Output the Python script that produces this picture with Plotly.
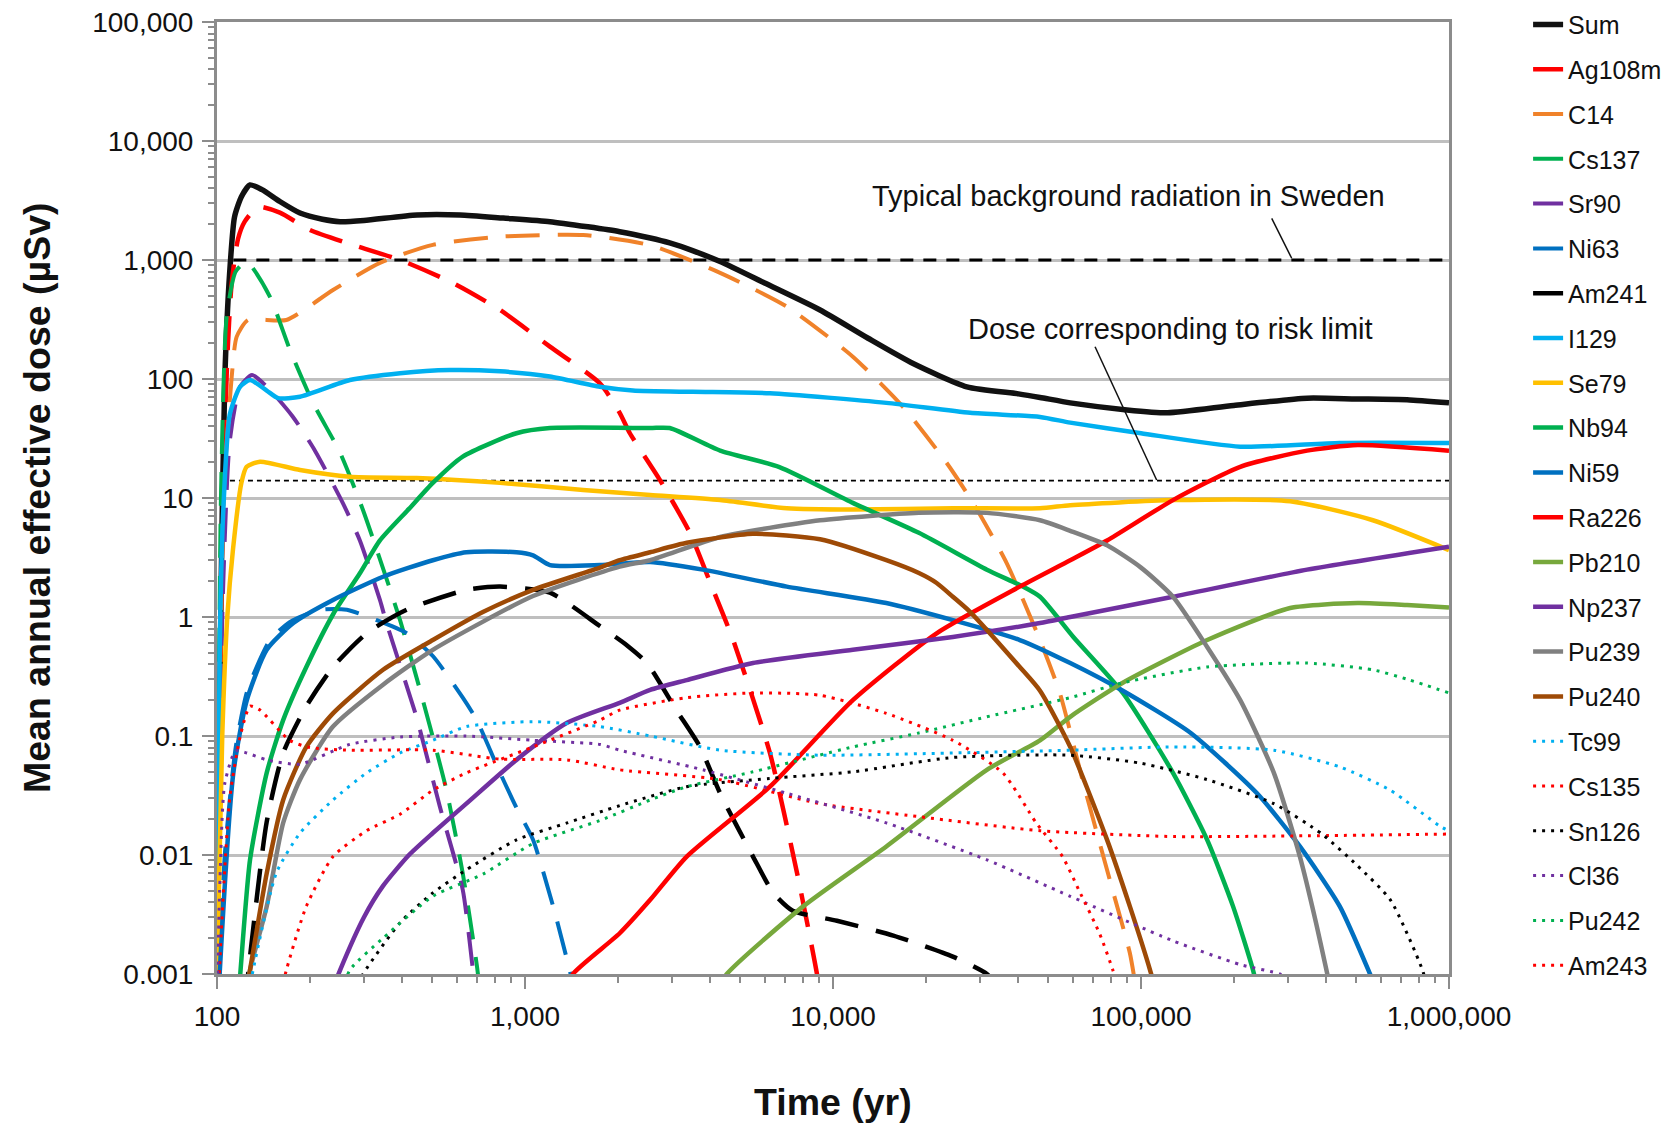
import plotly.graph_objects as go

# ---------------- data (time in years, dose in µSv) ----------------
t_sum = [100, 103, 106, 110, 114, 120, 128, 140, 160, 186, 220, 251, 300, 446, 615, 850, 1205, 1600, 2030, 2550, 2950, 3500, 4300, 6000, 9080, 13000, 18200, 27200, 40000, 47000, 58900, 90000, 122000, 200000, 346000, 500000, 731000, 1000000]
d_sum = [0.001, 1.4, 100, 800, 2300, 3400, 4270, 3900, 3100, 2480, 2200, 2100, 2150, 2390, 2390, 2250, 2100, 1900, 1730, 1530, 1390, 1200, 970, 640, 380, 220, 135, 86, 75, 70, 63, 55, 52, 60, 69, 68, 67, 63]

t_ag108m = [100, 104, 108, 111.6, 117, 123, 136, 160, 200, 264, 393, 584, 830, 1205, 1750, 2030, 2190, 2740, 3430, 4040, 4740, 6240, 7640, 8870, 9500]
d_ag108m = [0.001, 5, 150, 640, 1500, 2100, 2800, 2500, 1790, 1390, 1000, 640, 380, 187, 92, 52, 35, 14.2, 5.1, 1.8, 0.64, 0.072, 0.0071, 0.001, 0.0003]

t_c14 = [100, 105, 111.6, 115.8, 126, 168, 238, 338, 502, 830, 1545, 2550, 4300, 7080, 11600, 16900, 23400, 28500, 36600, 47000, 54500, 65000, 81000, 92000, 96000]
d_c14 = [0.001, 10, 104, 226, 313, 313, 560, 945, 1340, 1570, 1620, 1330, 780, 406, 154, 58, 19.7, 9.1, 2.85, 0.64, 0.23, 0.04, 0.005, 0.0015, 0.0008]

t_cs137 = [100, 103, 107.5, 115, 124.8, 148.6, 172.6, 205, 251, 298, 355, 393, 466, 556, 628, 697, 720]
d_cs137 = [0.001, 10, 334, 800, 970, 490, 175, 63, 24, 7.9, 2.1, 0.94, 0.2, 0.035, 0.007, 0.0012, 0.0006]

t_sr90 = [100, 104, 110, 118.8, 130, 148.6, 176.5, 208, 256, 291, 338, 355, 444, 529, 628, 678, 700]
d_sr90 = [0.0005, 1, 30, 86, 108, 81, 48, 25, 9.1, 4.4, 1.39, 0.89, 0.145, 0.0255, 0.0051, 0.00107, 0.0006]

t_ni63 = [100, 106, 115, 124.8, 134.5, 148.6, 172.6, 216, 264, 330, 413, 502, 628, 697, 830, 938, 1062, 1234, 1396, 1450]
d_ni63 = [0.0003, 0.01, 0.08, 0.23, 0.38, 0.64, 0.91, 1.15, 1.15, 0.94, 0.73, 0.47, 0.21, 0.136, 0.049, 0.025, 0.0134, 0.0037, 0.00108, 0.0007]

t_am241 = [100, 115, 128, 145, 164, 195, 238, 306, 413, 645, 830, 1205, 1750, 2140, 2490, 3100, 3700, 4300, 5500, 6400, 7400, 10300, 15700, 24500, 31600, 34000]
d_am241 = [0.00001, 0.0001, 0.0014, 0.019, 0.072, 0.178, 0.38, 0.73, 1.15, 1.69, 1.8, 1.6, 0.84, 0.58, 0.41, 0.165, 0.081, 0.033, 0.0097, 0.0048, 0.0034, 0.0028, 0.0021, 0.0014, 0.001, 0.0008]

t_i129 = [100, 102, 104.6, 110, 118.8, 128, 145, 158, 186, 270, 393, 570, 830, 1205, 1750, 2240, 3500, 6240, 14900, 27900, 47000, 58900, 100000, 210000, 442000, 1000000]
d_i129 = [0.001, 0.5, 7, 50, 86, 98, 80, 69, 71, 98, 112, 119, 116, 105, 86, 80, 78, 76, 63, 52, 48, 43, 35, 27, 29, 29]

t_se79 = [100, 104, 108, 112.7, 120, 124.8, 138, 186, 270, 445, 830, 1545, 2550, 4300, 7080, 11600, 24500, 47000, 58900, 127000, 305000, 566000, 1000000]
d_se79 = [0.001, 0.1, 1, 3.7, 13.4, 18.3, 20.2, 17.2, 15.1, 14.7, 13.4, 11.7, 10.6, 9.6, 8.2, 8.0, 8.2, 8.2, 8.7, 9.6, 9.4, 6.5, 3.65]

t_nb94 = [115, 119, 128, 145, 164, 195, 239, 291, 338, 420, 502, 628, 938, 1205, 2550, 2950, 4300, 6700, 11600, 19000, 31600, 41400, 47000, 60300, 87300, 127000, 164000, 199000, 231000, 240000]
d_nb94 = [0.0003, 0.001, 0.0091, 0.049, 0.136, 0.38, 1.07, 2.33, 4.4, 8.1, 13.4, 22.3, 35, 38.7, 38.7, 38.7, 25, 18.2, 9.1, 5.1, 2.5, 1.8, 1.48, 0.68, 0.23, 0.049, 0.0134, 0.0037, 0.00108, 0.0007]

t_ni59 = [100, 102, 113, 125, 145, 177, 238, 346, 502, 645, 938, 1062, 1205, 1750, 2550, 3780, 7080, 14900, 24500, 40400, 58900, 87300, 145000, 238000, 328000, 442000, 554000, 600000]
d_ni59 = [0.0003, 0.001, 0.049, 0.2, 0.53, 0.89, 1.39, 2.18, 3.0, 3.5, 3.5, 3.3, 2.73, 2.73, 2.9, 2.5, 1.8, 1.31, 0.94, 0.64, 0.41, 0.24, 0.106, 0.033, 0.0118, 0.0037, 0.001, 0.0006]

t_ra226 = [1300, 1430, 2030, 2550, 3350, 6240, 11600, 21700, 40400, 58900, 77600, 127000, 210000, 346000, 505000, 1000000]
d_ra226 = [0.0006, 0.001, 0.0022, 0.0042, 0.0097, 0.0375, 0.2, 0.73, 1.8, 3.0, 4.4, 9.6, 18.3, 25, 27.9, 25]

t_pb210 = [4000, 4520, 8000, 14900, 31600, 47000, 58900, 87300, 164000, 305000, 505000, 731000, 1000000]
d_pb210 = [0.0006, 0.001, 0.0037, 0.0118, 0.052, 0.092, 0.145, 0.28, 0.64, 1.19, 1.31, 1.26, 1.2]

t_np237 = [230, 251, 300, 346, 420, 502, 645, 938, 1370, 2030, 2550, 3350, 5500, 11600, 24500, 47000, 58900, 127000, 346000, 1000000]
d_np237 = [0.0006, 0.00108, 0.003, 0.0055, 0.01, 0.0153, 0.027, 0.063, 0.129, 0.19, 0.244, 0.295, 0.41, 0.53, 0.68, 0.89, 1.0, 1.48, 2.5, 3.9]

t_pu239 = [120, 128, 145, 164, 186, 238, 346, 502, 1062, 2030, 2550, 4300, 9080, 19000, 31600, 47000, 58900, 77600, 100000, 127000, 164000, 210000, 270000, 328000, 370000, 400000, 420000]
d_pu239 = [0.0004, 0.00108, 0.0037, 0.0186, 0.043, 0.12, 0.27, 0.53, 1.5, 2.65, 3.0, 4.7, 6.5, 7.5, 7.5, 6.5, 5.3, 4.0, 2.6, 1.48, 0.56, 0.2, 0.049, 0.0097, 0.0027, 0.00108, 0.0006]

t_pu240 = [120, 128, 145, 164, 195, 238, 346, 502, 730, 1062, 1750, 2030, 2550, 3350, 5500, 9080, 14900, 19000, 21700, 24500, 27900, 40400, 47000, 58900, 77600, 92000, 107000, 112000]
d_pu240 = [0.0004, 0.00108, 0.007, 0.029, 0.081, 0.155, 0.36, 0.64, 1.1, 1.69, 2.6, 3.0, 3.5, 4.2, 5.0, 4.5, 3.0, 2.34, 1.93, 1.48, 1.1, 0.38, 0.24, 0.081, 0.0134, 0.0037, 0.00108, 0.0007]

t_tc99 = [120, 131, 156, 186, 238, 306, 393, 502, 645, 1062, 1750, 2550, 4300, 9080, 24500, 58900, 127000, 270000, 442000, 645000, 940000, 1000000]
d_tc99 = [0.0003, 0.00108, 0.0071, 0.0153, 0.029, 0.049, 0.072, 0.092, 0.12, 0.132, 0.12, 0.1, 0.076, 0.069, 0.072, 0.076, 0.081, 0.076, 0.055, 0.035, 0.0173, 0.016]

t_cs135 = [100, 103, 110, 119, 128, 138, 172, 200, 270, 502, 830, 1370, 2030, 4300, 9080, 19000, 47000, 127000, 346000, 1000000]
d_cs135 = [0.0003, 0.002, 0.03, 0.1, 0.178, 0.165, 0.092, 0.08, 0.076, 0.076, 0.064, 0.063, 0.052, 0.043, 0.027, 0.021, 0.016, 0.0143, 0.0145, 0.015]

t_sn126 = [270, 298, 393, 502, 645, 938, 1370, 2030, 3350, 6240, 11600, 24500, 58900, 100000, 164000, 270000, 387000, 505000, 645000, 820000, 870000]
d_sn126 = [0.0006, 0.001, 0.0027, 0.0048, 0.0075, 0.0134, 0.0186, 0.026, 0.0375, 0.044, 0.05, 0.066, 0.069, 0.059, 0.043, 0.027, 0.015, 0.0081, 0.0042, 0.00108, 0.0006]

t_cl36 = [100, 102, 106, 115, 125, 145, 186, 270, 393, 645, 1062, 1750, 2030, 3780, 7080, 14900, 31600, 58900, 127000, 210000, 282000, 300000]
d_cl36 = [0.0005, 0.005, 0.04, 0.075, 0.072, 0.063, 0.058, 0.085, 0.098, 0.1, 0.092, 0.085, 0.076, 0.052, 0.033, 0.0186, 0.0091, 0.0045, 0.0019, 0.0012, 0.001, 0.0009]

t_pu242 = [250, 270, 346, 502, 730, 1062, 1750, 2550, 3350, 5500, 11600, 19000, 31600, 58900, 87300, 164000, 346000, 566000, 731000, 1000000]
d_pu242 = [0.0006, 0.00108, 0.002, 0.0045, 0.0069, 0.0125, 0.0195, 0.029, 0.0375, 0.05, 0.081, 0.106, 0.145, 0.21, 0.28, 0.38, 0.41, 0.36, 0.3, 0.23]

t_am243 = [150, 168, 195, 238, 306, 393, 502, 645, 1062, 1750, 2030, 3350, 5500, 9080, 14900, 24500, 35600, 45700, 55600, 63000, 73300, 81000, 85000]
d_am243 = [0.0003, 0.00108, 0.0037, 0.0097, 0.016, 0.022, 0.035, 0.049, 0.081, 0.136, 0.165, 0.21, 0.23, 0.22, 0.155, 0.092, 0.049, 0.0186, 0.0097, 0.005, 0.0022, 0.00108, 0.0007]

# reference levels
background_dose = 1000
background_t = [113, 1000000]
risk_dose = 14
risk_t = [103, 1000000]

x_tickvals = [100, 1000, 10000, 100000, 1000000]
x_ticktext = ["100", "1,000", "10,000", "100,000", "1,000,000"]
y_tickvals = [0.001, 0.01, 0.1, 1, 10, 100, 1000, 10000, 100000]
y_ticktext = ["0.001", "0.01", "0.1", "1", "10", "100", "1,000", "10,000", "100,000"]

# ---------------- styling ----------------
FONT = "Liberation Sans, Arial, sans-serif"
DASH = "34px,18px"
DOT = "3px,6px"

series = [
    ("Sum", t_sum, d_sum, "#111111", "solid", 5.5),
    ("Ag108m", t_ag108m, d_ag108m, "#FF0000", DASH, 4.5),
    ("C14", t_c14, d_c14, "#F0822A", DASH, 4),
    ("Cs137", t_cs137, d_cs137, "#00B050", DASH, 4),
    ("Sr90", t_sr90, d_sr90, "#7030A0", DASH, 4),
    ("Ni63", t_ni63, d_ni63, "#0070C0", DASH, 4),
    ("Am241", t_am241, d_am241, "#000000", DASH, 4.5),
    ("I129", t_i129, d_i129, "#00B0F0", "solid", 4.5),
    ("Se79", t_se79, d_se79, "#FFC000", "solid", 4.5),
    ("Nb94", t_nb94, d_nb94, "#00B050", "solid", 4.5),
    ("Ni59", t_ni59, d_ni59, "#0070C0", "solid", 4.5),
    ("Ra226", t_ra226, d_ra226, "#FF0000", "solid", 4.5),
    ("Pb210", t_pb210, d_pb210, "#77A83C", "solid", 4.5),
    ("Np237", t_np237, d_np237, "#7030A0", "solid", 4.5),
    ("Pu239", t_pu239, d_pu239, "#808080", "solid", 4.5),
    ("Pu240", t_pu240, d_pu240, "#9E4A06", "solid", 4.5),
    ("Tc99", t_tc99, d_tc99, "#00B0F0", DOT, 3),
    ("Cs135", t_cs135, d_cs135, "#FF0000", DOT, 3),
    ("Sn126", t_sn126, d_sn126, "#000000", DOT, 3),
    ("Cl36", t_cl36, d_cl36, "#7030A0", DOT, 3),
    ("Pu242", t_pu242, d_pu242, "#00B050", DOT, 3),
    ("Am243", t_am243, d_am243, "#FF0000", DOT, 3),
]

fig = go.Figure()

# reference lines
fig.add_trace(go.Scatter(x=background_t, y=[background_dose] * len(background_t), mode="lines",
                         line=dict(color="#000000", width=3, dash="13px,10px"),
                         showlegend=False, hoverinfo="skip"))
fig.add_trace(go.Scatter(x=risk_t, y=[risk_dose] * len(risk_t), mode="lines",
                         line=dict(color="#000000", width=1.8, dash="5px,4px"),
                         showlegend=False, hoverinfo="skip"))

for name, t, d, color, dash, width in series:
    fig.add_trace(go.Scatter(x=t, y=d, mode="lines", name=name, legendgroup=name,
                             line=dict(color=color, dash=dash, width=width, shape="spline", smoothing=0.6)))

minor_vals = []
for p in range(-3, 6):
    for m in range(2, 10):
        minor_vals.append(m * 10 ** p)

axis_common = dict(
    type="log", showline=True, linecolor="#8C8C8C", linewidth=3, mirror=True,
    ticks="outside", ticklen=12, tickwidth=2, tickcolor="#8C8C8C",
    tickfont=dict(family=FONT, size=28, color="#111111"),
    zeroline=False,
)

fig.update_xaxes(**axis_common, range=[2, 6], tickmode="array", tickvals=x_tickvals, ticktext=x_ticktext,
                 showgrid=False, ticklabelstandoff=3,
                 minor=dict(tickmode="array", tickvals=[v for v in minor_vals if 100 < v < 1000000],
                            ticks="outside", ticklen=6, tickwidth=2, tickcolor="#8C8C8C", showgrid=False))
fig.update_yaxes(**axis_common, range=[-3, 5], tickmode="array", tickvals=y_tickvals, ticktext=y_ticktext,
                 showgrid=True, gridcolor="#BFBFBF", gridwidth=2.5, ticklabelstandoff=3,
                 minor=dict(tickmode="array", tickvals=[v for v in minor_vals if 0.001 < v < 100000],
                            ticks="outside", ticklen=6, tickwidth=2, tickcolor="#8C8C8C", showgrid=False))

fig.update_layout(
    width=1670, height=1123,
    margin=dict(l=217, r=221, t=22, b=149, autoexpand=False),
    paper_bgcolor="white", plot_bgcolor="white",
    font=dict(family=FONT, color="#111111"),
    legend=dict(x=1.0642, xanchor="left", y=1.0214, yanchor="top", maxheight=1120,
                font=dict(family=FONT, size=25, color="#111111"),
                tracegroupgap=9.3, bgcolor="rgba(0,0,0,0)", borderwidth=0),
    showlegend=True,
    annotations=[
        dict(text="<b>Time (yr)</b>", xref="paper", yref="paper", x=0.5, y=-0.1345,
             showarrow=False, font=dict(family=FONT, size=37.5, color="#111111"),
             xanchor="center", yanchor="middle"),
        dict(text="<b>Mean annual effective dose (µSv)</b>", xref="paper", yref="paper",
             x=-0.1461, y=0.5, textangle=-90, showarrow=False,
             font=dict(family=FONT, size=37.5, color="#111111"), xanchor="center", yanchor="middle"),
        dict(text="Typical background radiation in Sweden", xref="paper", yref="paper",
             x=0.740, y=0.817, showarrow=False, font=dict(family=FONT, size=29, color="#111111"),
             xanchor="center", yanchor="middle"),
        dict(text="Dose corresponding to risk limit", xref="paper", yref="paper",
             x=0.774, y=0.6775, showarrow=False, font=dict(family=FONT, size=29, color="#111111"),
             xanchor="center", yanchor="middle"),
    ],
    shapes=[
        dict(type="line", xref="paper", yref="paper", x0=0.8561, y0=0.7938, x1=0.8723, y1=0.7518,
             line=dict(color="#111111", width=1.5)),
        dict(type="line", xref="paper", yref="paper", x0=0.7127, y0=0.6589, x1=0.7627, y1=0.5189,
             line=dict(color="#111111", width=1.5)),
    ],
)

fig.write_html("out.html")
